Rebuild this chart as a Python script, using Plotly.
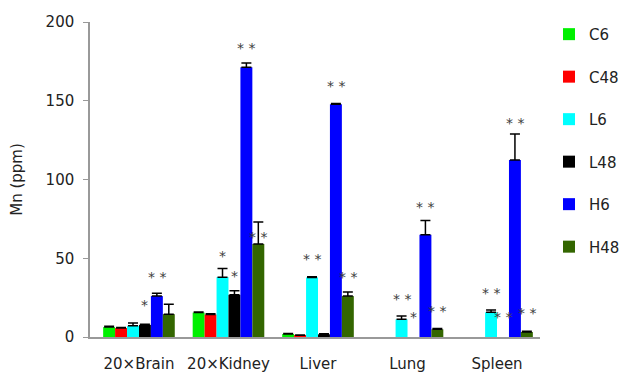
import plotly.graph_objects as go

# Tissues (x categories) and the six exposure groups
tissues = ["20×Brain", "20×Kidney", "Liver", "Lung", "Spleen"]
groups = ["C6", "C48", "L6", "L48", "H6", "H48"]
colors = ["#00f000", "#ff0000", "#00ffff", "#000000", "#0000ff", "#336600"]

# Mean Mn concentration (ppm) per group, one value per tissue
c6 = [6.3, 15.5, 1.9, 0.0, 0.0]
c48 = [5.7, 14.3, 1.1, 0.0, 0.0]
l6 = [7.1, 38.0, 37.8, 11.2, 15.7]
l48 = [7.7, 26.8, 1.7, 0.0, 0.0]
h6 = [26.0, 171.2, 147.8, 65.0, 112.4]
h48 = [14.5, 59.0, 26.0, 4.9, 3.2]

# Standard deviations (upper error bars)
c6_sd = [0.6, 0.4, 0.3, 0.0, 0.0]
c48_sd = [0.3, 0.4, 0.2, 0.0, 0.0]
l6_sd = [1.8, 5.5, 0.5, 2.1, 1.4]
l48_sd = [0.4, 2.5, 0.3, 0.0, 0.0]
h6_sd = [1.8, 2.8, 0.5, 9.0, 16.5]
h48_sd = [6.3, 14.0, 2.5, 0.5, 0.4]

means = [c6, c48, l6, l48, h6, h48]
sds = [c6_sd, c48_sd, l6_sd, l48_sd, h6_sd, h48_sd]

# Significance marks: (tissue index, group index, text, label height in ppm)
sig_tissue = [0, 0, 1, 1, 1, 1, 2, 2, 2, 3, 3, 3, 3, 4, 4, 4, 4]
sig_group = [3, 4, 2, 3, 4, 5, 2, 4, 5, 2, 3, 4, 5, 2, 3, 4, 5]
sig_text = ["*", "* *", "*", "*", "* *", "* *", "* *", "* *", "* *",
            "* *", "*", "* *", "* *", "* *", "* *", "* *", "* *"]
sig_y = [22.9, 40.6, 54.0, 41.3, 186.0, 66.0, 52.0, 162.0, 40.8,
         26.7, 15.4, 85.3, 19.0, 30.3, 15.0, 138.4, 18.0]

FONT = "DejaVu Sans"
BARGAP = 0.2
n = len(groups)
slot = (1 - BARGAP) / n

fig = go.Figure()
for name, col, m, s in zip(groups, colors, means, sds):
    # no bar and no error cap where nothing was measured
    ys = [v if v > 0 else None for v in m]
    es = [e if v > 0 else None for v, e in zip(m, s)]
    fig.add_trace(go.Bar(
        name=name, x=list(range(len(tissues))), y=ys,
        marker=dict(color=col, line=dict(width=0)),
        error_y=dict(type="data", symmetric=False, array=es,
                     arrayminus=[0] * len(s), color="#000000",
                     thickness=1.5, width=5),
        legendgroup=name,
    ))

for t, g, txt, yv in zip(sig_tissue, sig_group, sig_text, sig_y):
    xpos = t - (1 - BARGAP) / 2 + slot * (g + 0.5)
    fig.add_annotation(x=xpos, y=yv, text=txt, showarrow=False,
                       xref="x", yref="y", yshift=-4,
                       font=dict(family=FONT, size=14, color="#404040"))

fig.update_layout(
    width=622, height=372,
    margin=dict(l=90, r=82, t=22, b=35, autoexpand=False),
    paper_bgcolor="white", plot_bgcolor="white",
    barmode="group", bargap=BARGAP, bargroupgap=0,
    font=dict(family=FONT, size=15, color="#222222"),
    legend=dict(x=1.02, xanchor="left", y=1.013, yanchor="top",
                font=dict(family=FONT, size=15, color="#222222"),
                tracegroupgap=20, itemwidth=30, maxheight=500,
                bgcolor="rgba(0,0,0,0)"),
    showlegend=True,
)
fig.update_xaxes(
    tickmode="array", tickvals=list(range(len(tissues))), ticktext=tissues,
    range=[-0.547, 4.48], showgrid=False, zeroline=False,
    showline=True, linecolor="#999999", linewidth=2,
    ticks="", ticklabelstandoff=12, automargin=False,
    tickfont=dict(family=FONT, size=15, color="#222222"),
)
fig.update_yaxes(
    range=[0, 200], dtick=50, showgrid=False, zeroline=False,
    showline=True, linecolor="#999999", linewidth=1.5,
    ticks="outside", ticklen=5, tickcolor="#999999", ticklabelstandoff=6,
    automargin=False,
    tickfont=dict(family=FONT, size=15, color="#222222"),
    title=dict(text="Mn (ppm)", standoff=19,
               font=dict(family=FONT, size=15, color="#222222")),
)

fig.write_html("out.html")
